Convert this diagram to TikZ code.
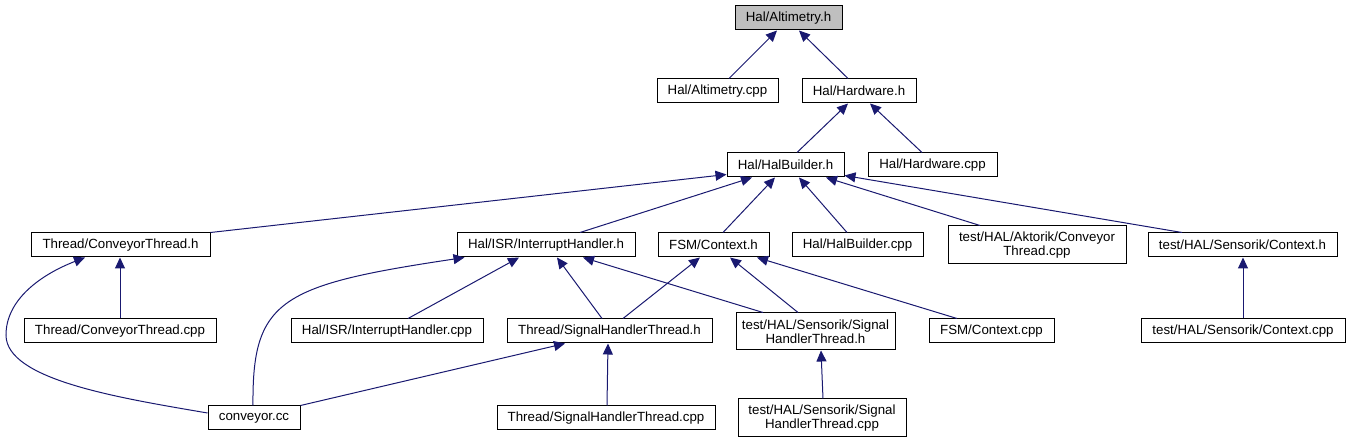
\documentclass[tikz,border=0pt]{standalone}
\usepackage{fontspec}
\setmainfont{Liberation Sans}
\usetikzlibrary{arrows.meta}
\definecolor{edgeblue}{HTML}{191970}
\definecolor{rootgray}{HTML}{BFBFBF}
\begin{document}
\begin{tikzpicture}[x=1pt,y=-1pt,
  box/.style={draw=black,line width=1pt,fill=white,inner sep=0pt,align=center,
    minimum height=24pt,font=\fontsize{13.3}{14}\selectfont},
  edge/.style={draw=edgeblue,line width=1pt,-{Triangle[length=11pt,width=10pt]}}]
\useasboundingbox (0,0) rectangle (1350,443);
% row 1
\node[box,fill=rootgray,minimum width=107pt] (alth) at (788.5,18) {Hal/Altimetry.h};
% row 2
\node[box,minimum width=121pt] (altcpp) at (717.5,91) {Hal/Altimetry.cpp};
\node[box,minimum width=114pt] (hwh) at (859,91) {Hal/Hardware.h};
% row 3
\node[box,minimum width=117pt] (hbh) at (785.5,165) {Hal/HalBuilder.h};
\node[box,minimum width=129pt] (hwcpp) at (932.5,165) {Hal/Hardware.cpp};
% row 4
\node[box,minimum width=179pt] (cth) at (120.5,245) {Thread/ConveyorThread.h};
\node[box,minimum width=178pt] (ihh) at (546,245) {Hal/ISR/InterruptHandler.h};
\node[box,minimum width=111pt] (fsmh) at (713.5,245) {FSM/Context.h};
\node[box,minimum width=131pt] (hbcpp) at (857.5,245) {Hal/HalBuilder.cpp};
\node[box,minimum width=178pt,minimum height=38pt] (akt) at (1037,245) {test/HAL/Aktorik/Conveyor\\Thread.cpp};
\node[box,minimum width=189pt] (sctxh) at (1242.5,245) {test/HAL/Sensorik/Context.h};
% row 5
\node[box,minimum width=192pt] (ctcpp) at (120,331) {Thread/ConveyorThread.cpp};
\node[box,minimum width=192pt] (ihcpp) at (387,331) {Hal/ISR/InterruptHandler.cpp};
\node[box,minimum width=205pt] (shth) at (609.5,331) {Thread/SignalHandlerThread.h};
\node[box,minimum width=159pt,minimum height=37pt] (sshth) at (815.5,331.5) {test/HAL/Sensorik/Signal\\HandlerThread.h};
\node[box,minimum width=125pt] (fsmcpp) at (991.5,331) {FSM/Context.cpp};
\node[box,minimum width=204pt] (sctxcpp) at (1243,331) {test/HAL/Sensorik/Context.cpp};
% row 6
\node[box,minimum width=92pt] (conv) at (254,418) {conveyor.cc};
\node[box,minimum width=218pt] (shtcpp) at (606,418) {Thread/SignalHandlerThread.cpp};
\node[box,minimum width=168pt,minimum height=38pt] (sshtcpp) at (822,418) {test/HAL/Sensorik/Signal\\HandlerThread.cpp};
% edges
\draw[edge] ([xshift=11.5pt]altcpp.north) -- ([xshift=-11.5pt]alth.south);
\draw[edge] ([xshift=-11pt]hwh.north) -- ([xshift=10.5pt]alth.south);
\draw[edge] ([xshift=11.5pt]hbh.north) -- ([xshift=-11pt]hwh.south);
\draw[edge] ([xshift=-10.5pt]hwcpp.north) -- ([xshift=11pt]hwh.south);
\draw[edge] (cth.north east) -- ([yshift=3pt]hbh.south west);
\draw[edge] ([xshift=34pt]ihh.north) -- ([xshift=-33.5pt]hbh.south);
\draw[edge] ([xshift=9.5pt]fsmh.north) -- ([xshift=-10.5pt]hbh.south);
\draw[edge] ([xshift=-10.5pt]hbcpp.north) -- ([xshift=13.5pt]hbh.south);
\draw[edge] ([xshift=-57pt]akt.north) -- ([xshift=40.5pt]hbh.south);
\draw[edge] ([xshift=-60.5pt]sctxh.north) -- ([yshift=2pt]hbh.south east);
\draw[edge] ([yshift=5pt]conv.west) .. controls (120,398) and (6,380) .. (6,335)
  .. controls (6,300) and (40,275) .. ([xshift=-35.5pt]cth.south);
\draw[edge] (ctcpp.north) -- (ctcpp.north |- cth.south);
\draw[edge] ([xshift=-1pt]conv.north) .. controls (252,300) and (280,285) .. ([xshift=8pt]ihh.south west);
\draw[edge] ([xshift=21pt]ihcpp.north) -- ([xshift=-27pt]ihh.south);
\draw[edge] ([xshift=-7.5pt]shth.north) -- ([xshift=11pt]ihh.south);
\draw[edge] ([xshift=-52.5pt]sshth.north) -- ([xshift=37pt]ihh.south);
\draw[edge] ([xshift=13.5pt]shth.north) -- ([xshift=-13.5pt]fsmh.south);
\draw[edge] ([xshift=-17.5pt]sshth.north) -- ([xshift=16.5pt]fsmh.south);
\draw[edge] ([xshift=-34.5pt]fsmcpp.north) -- ([xshift=43.5pt]fsmh.south);
\draw[edge] (conv.north east) -- ([xshift=-44.5pt]shth.south);
\draw[edge] ([xshift=1pt]shtcpp.north) -- ([xshift=-1.5pt]shth.south);
\draw[edge] ([xshift=1pt]sshtcpp.north) -- ([xshift=5.5pt]sshth.south);
\draw[edge] (sctxcpp.north) -- (sctxcpp.north |- sctxh.south);
\end{tikzpicture}
\end{document}
